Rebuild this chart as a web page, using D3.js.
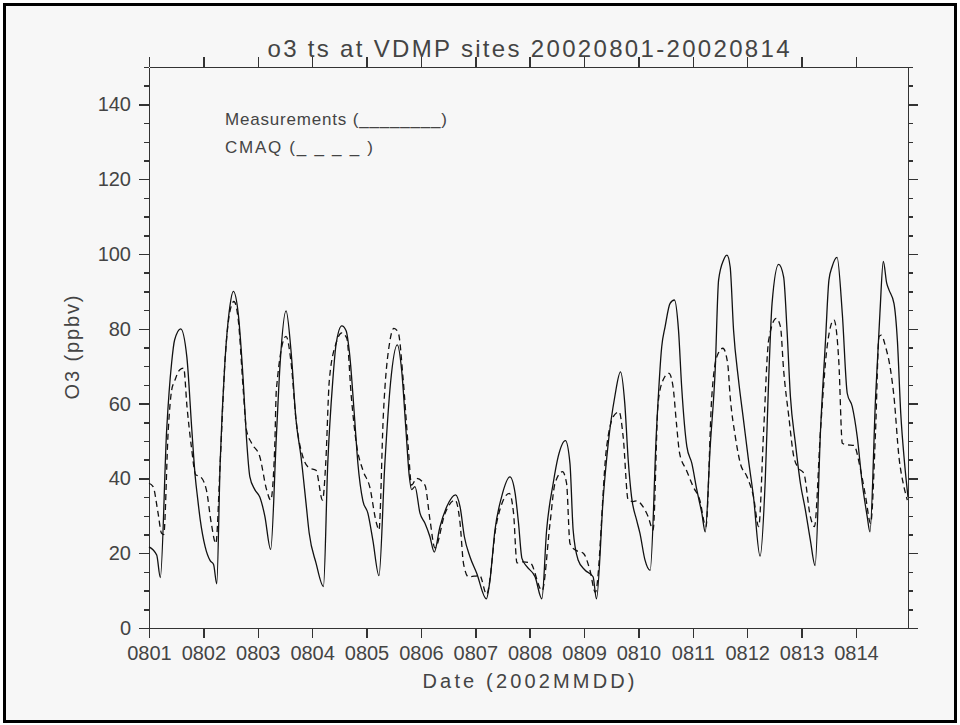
<!DOCTYPE html>
<html>
<head>
<meta charset="utf-8">
<script src="https://cdn.jsdelivr.net/npm/d3@7"></script>
<style>
  body { margin: 0; background: #fff; }
  text { font-family: "Liberation Sans", Arial, sans-serif; fill: #444; }
  .axis path, .axis line { stroke: #333; stroke-width: 1.5; shape-rendering: crispEdges; }
</style>
</head>
<body>
<div id="chart"></div>
<script>
// day labels (one tick per day, hours from 0801 00h)
var dayLabels = ["0801","0802","0803","0804","0805","0806","0807",
                 "0808","0809","0810","0811","0812","0813","0814"];
var yTicks = [0, 20, 40, 60, 80, 100, 120, 140];

// Measurements (solid) -- hour since 0801 00h, o3 ppbv
var measHour = [0,3.4,5,7.8,10,11.3,14,16.7,18.9,20.4,21.4,22.6,24.8,27,28.5,29.9,31.4,33.5,35.7,37.2,
  39.4,41.6,43,44.5,46.7,48.9,51.1,53.7,56.2,57.9,60.5,62.7,64.9,67.1,69.3,70.7,73.7,77,78.9,81.1,
  82.6,85.1,87,88.5,90.7,92.2,94.4,96.6,98.8,101.5,104.1,106.6,109.6,111.5,113.4,114.9,115.9,117.4,119.6,121.8,
  124,125.9,128.4,131.4,135.3,137.3,139.2,141.7,144.6,148.9,150.5,152.7,155.6,159.3,161.6,163.1,164.6,166.8,170.4,173.4,
  175.5,178.4,180.6,183.8,185.8,187.2,189.4,192.4,196,197.5,200.5,202.7,205.6,208.1,210,211.5,213,215.2,216.7,218.9,
  221.2,224,226.3,227.8,230,231.9,233.7,235.1,237.4,239.6,241.8,244,245.5,247.7,249.9,251.4,253.6,255.1,256.5,258,
  260.2,262.4,264.6,266.8,269.7,272,273.5,275,277.9,280.1,281.6,283.1,285.3,287.5,289.7,291.9,294,296.4,298.6,300.1,
  301.5,303.7,306,308.2,310.4,312.6,314.8,317,318.2,320.7,322.6,324.1,325.6,326.6,328.8,330.3,331.8,333.5,335];
var measO3 = [21.7,19.5,13.5,53,71,77,80,72.5,53,40.5,35,29,21.7,18,17,11.8,44,71,86,90,
  84,66,51,40.5,37,35,30,21,51,71,84.8,74,55.6,45.8,33.4,25.4,17.4,11.1,44,66,
  76,80.8,79.5,73.5,56.5,44,34,30.7,23.5,14,44,65.5,75.7,69,53,40.5,37,37.8,30.7,28,
  24.4,20.3,27,32.4,35.6,32.4,24.4,19,14.7,7.8,12.8,26.2,35,40.4,36,28,18.6,16.4,13.7,7.8,
  26.2,38.7,45.8,50.1,44,26.2,18.2,15.5,13.7,7.8,35,49.4,61.9,68.5,60,45,35,28.9,25.3,18.2,
  15.4,53,75.2,80.6,86.8,87.7,79.7,64.5,48.5,44,36.9,30.7,25.7,48.5,69,93,98.4,99.7,96.6,79.7,
  66.3,55.6,44.9,35.1,19.2,39.6,66.3,86.8,97.2,93.9,79.7,61.9,49.4,38.7,31.6,23.5,16.7,53,77,93,
  96.6,99.1,84.1,62.7,59.2,51.1,38.7,29.8,25.7,61.9,84.1,98,92.2,90.4,86.8,77,57.4,44,35];

// CMAQ (dashed)
var cmaqHour = [0,1.8,4,5.5,6.5,8.5,10,11.3,13.5,15.3,16.8,18.7,20.6,22.6,25.3,27.5,29.5,31.4,33.5,35.7,
  37.5,39.4,41.6,43,45.3,48.9,51.9,53.7,55.5,56.2,60.5,62.7,64.9,67.9,70.7,73.7,76.6,78,79.6,82.6,
  85.1,87.3,89.3,91.5,94.4,97.4,100.4,101.5,103.4,106.4,108.1,110,112.2,114.4,115.9,118.1,121.8,124,126.2,130.7,
  135.1,137.3,138.8,141,146,149,153.4,156.4,159,160.9,162.4,165.3,168.3,173.5,177,179.2,182.5,184.3,185.8,188,
  191.7,194.6,197,202,204.9,207.5,209.3,211.5,213.7,215.2,218.1,220.3,222.5,224.7,226.9,229.5,231.3,232.8,234.2,237.2,
  240.2,243.1,245.8,248.4,250.6,253.3,255.4,256.5,258.8,261,263.9,266.8,269.1,271.3,273.5,276.9,278.7,280.1,282.4,284.6,
  286.8,289,291.9,293.7,296.4,299.3,302.3,304.5,306,308.2,311.1,314.1,316.3,318.5,320.7,322.2,323.2,325.1,327.3,328.8,
  331,333.2,334.7];
var cmaqO3 = [38.7,37.8,30.7,25.4,25,53,63.6,66,69,69.5,59,48.5,41,40.5,37,28,22.6,44,71,84.6,
  87.3,82.4,63.6,53,49.4,45.8,37,34.2,48.5,63.6,78,71,55.6,45.8,42.8,42.2,34.2,44,66.3,76.2,
  78.9,77.5,61.8,49.4,42.2,37.8,28,26.2,56.5,77,80.1,79,66.3,48.5,38.2,40,38.2,29,21.4,30.7,
  34.2,28,17.3,13.7,14,9,28,34.2,36,30.7,17.4,17.7,17.4,10,28,38.7,41.8,38.7,22.6,20.9,
  20,15.5,9.5,48.5,56.5,57.8,51,34.2,33.8,34,32.4,29.8,26.2,60.1,66.3,68.1,64.5,54.7,46.7,42.2,
  37.8,34.2,27.1,61.9,72.5,74.8,70.8,61.9,51.1,44,40.5,35.1,27.1,53,77,82.8,80.6,69,56.5,45.8,
  42.7,41.4,29.8,27.1,53,75.2,82.4,70.8,49.4,49,48.8,42.2,35.1,28,53,77.9,78.3,75.2,69,61.9,
  45.8,37.8,34.2];

var W = 960, H = 725;
var margin = {top: 67, right: 52, bottom: 97, left: 149};

var svg = d3.select("#chart").append("svg")
    .attr("width", W)
    .attr("height", H);

// outer frame
svg.append("rect")
    .attr("x", 4.5).attr("y", 4.5)
    .attr("width", W - 9).attr("height", H - 8)
    .attr("fill", "#f7f7f7")
    .attr("stroke", "#000")
    .attr("stroke-width", 3);

var x = d3.scaleLinear().domain([0, 335]).range([margin.left, W - margin.right]);
var y = d3.scaleLinear().domain([0, 150]).range([H - margin.bottom, margin.top]);

var dayHours = dayLabels.map(function(d, i) { return i * 24; });
var minorY = d3.range(0, 151, 5);

// bottom axis with day labels
var gBottom = svg.append("g").attr("class", "axis")
    .attr("transform", "translate(0," + y(0) + ")")
    .call(d3.axisBottom(x).tickValues(dayHours).tickSize(10).tickSizeOuter(0).tickPadding(8)
        .tickFormat(function(d, i) { return dayLabels[i]; }));
gBottom.selectAll("text").style("font-size", "20px").attr("fill", "#444");

// top axis
svg.append("g").attr("class", "axis")
    .attr("transform", "translate(0," + y(150) + ")")
    .call(d3.axisTop(x).tickValues(dayHours).tickSize(10).tickSizeOuter(0).tickFormat(""));

// left axis
var gLeft = svg.append("g").attr("class", "axis")
    .attr("transform", "translate(" + x(0) + ",0)")
    .call(d3.axisLeft(y).tickValues(yTicks).tickSize(10).tickSizeOuter(0).tickPadding(8));
gLeft.selectAll("text").style("font-size", "20px").attr("fill", "#444");
svg.append("g").attr("class", "axis")
    .attr("transform", "translate(" + x(0) + ",0)")
    .call(d3.axisLeft(y).tickValues(minorY).tickSize(5).tickSizeOuter(0).tickFormat(""));

// right axis
svg.append("g").attr("class", "axis")
    .attr("transform", "translate(" + x(335) + ",0)")
    .call(d3.axisRight(y).tickValues(yTicks).tickSize(10).tickSizeOuter(0).tickFormat(""));
svg.append("g").attr("class", "axis")
    .attr("transform", "translate(" + x(335) + ",0)")
    .call(d3.axisRight(y).tickValues(minorY).tickSize(5).tickSizeOuter(0).tickFormat(""));

// series
var line = d3.line()
    .x(function(d) { return x(d[0]); })
    .y(function(d) { return y(d[1]); })
    .curve(d3.curveMonotoneX);

svg.append("path")
    .datum(d3.zip(measHour, measO3))
    .attr("d", line)
    .attr("fill", "none")
    .attr("stroke", "#111")
    .attr("stroke-width", 1.3);

svg.append("path")
    .datum(d3.zip(cmaqHour, cmaqO3))
    .attr("d", line)
    .attr("fill", "none")
    .attr("stroke", "#111")
    .attr("stroke-width", 1.3)
    .attr("stroke-dasharray", "6,4");

// title
svg.append("text")
    .attr("x", (x(0) + x(335)) / 2)
    .attr("y", 57)
    .attr("text-anchor", "middle")
    .attr("textLength", 522)
    .attr("lengthAdjust", "spacing")
    .style("font-size", "24px")
    .text("o3 ts at VDMP sites 20020801-20020814");

// axis titles
svg.append("text")
    .attr("x", (x(0) + x(335)) / 2)
    .attr("y", 688)
    .attr("text-anchor", "middle")
    .attr("textLength", 212)
    .attr("lengthAdjust", "spacing")
    .style("font-size", "20px")
    .text("Date (2002MMDD)");

svg.append("text")
    .attr("transform", "translate(79," + ((y(0) + y(150)) / 2) + ") rotate(-90)")
    .attr("text-anchor", "middle")
    .attr("textLength", 104)
    .attr("lengthAdjust", "spacing")
    .style("font-size", "20px")
    .text("O3 (ppbv)");

// legend
svg.append("text")
    .attr("x", 225).attr("y", 125)
    .attr("textLength", 222)
    .attr("lengthAdjust", "spacing")
    .style("font-size", "17px")
    .text("Measurements (________)");
svg.append("text")
    .attr("x", 225).attr("y", 153)
    .attr("textLength", 148)
    .attr("lengthAdjust", "spacing")
    .style("font-size", "17px")
    .text("CMAQ (_ _ _ _ )");
</script>
</body>
</html>
